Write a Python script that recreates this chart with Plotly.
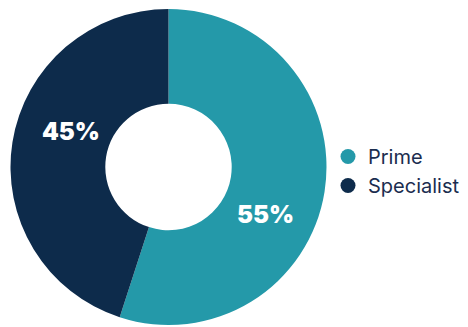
import math
import plotly.graph_objects as go

# Share of work by partner type
categories = ["Prime", "Specialist"]
shares = [55, 45]
colors = ["#2499a9", "#0d2b4b"]

W, H = 468, 327
# pie placement in pixels
CX, CY, R = 168.5, 167.0, 158.0
HOLE = 0.40
LABEL_R = 0.67        # label radius as a fraction of the outer radius
LABEL_SHIFT = 14.0    # degrees clockwise from each slice's mid-angle
LABEL_DY = 6.0        # extra downward nudge of the labels, pixels

fig = go.Figure()

fig.add_trace(go.Pie(
    labels=categories,
    values=shares,
    marker=dict(colors=colors, line=dict(width=0)),
    hole=HOLE,
    sort=False,
    direction="clockwise",
    rotation=0,
    textinfo="none",
    hoverinfo="label+percent",
    showlegend=False,
    domain=dict(x=[(CX - R) / W, (CX + R) / W], y=[1 - (CY + R) / H, 1 - (CY - R) / H]),
))

# percentage labels placed on the ring, derived from the slice values
total = sum(shares)
start = 0.0
for val in shares:
    sweep = val / total * 360.0
    ang = math.radians(start + sweep / 2 + LABEL_SHIFT)
    px = CX + LABEL_R * R * math.sin(ang)
    py = CY - LABEL_R * R * math.cos(ang) + LABEL_DY
    fig.add_annotation(
        x=px / W, y=1 - py / H, xref="paper", yref="paper",
        text=f"{round(val / total * 100)}%", showarrow=False,
        font=dict(family="Inter", size=24, color="white", weight=900),
        xanchor="center", yanchor="middle",
    )
    start += sweep

# legend entries with round markers
for name, col in zip(categories, colors):
    fig.add_trace(go.Scatter(
        x=[None], y=[None], mode="markers", name=name,
        marker=dict(color=col, size=15, symbol="circle"),
        hoverinfo="skip",
    ))

fig.update_layout(
    width=W, height=H,
    margin=dict(l=0, r=0, t=0, b=0),
    paper_bgcolor="white",
    plot_bgcolor="white",
    xaxis=dict(visible=False),
    yaxis=dict(visible=False),
    legend=dict(
        x=328 / W, y=1 - 171 / H, xanchor="left", yanchor="middle",
        font=dict(family="Inter", size=20, color="#1b2d4f"),
        tracegroupgap=0,
        bgcolor="rgba(0,0,0,0)",
    ),
)

fig.write_html("out.html")
